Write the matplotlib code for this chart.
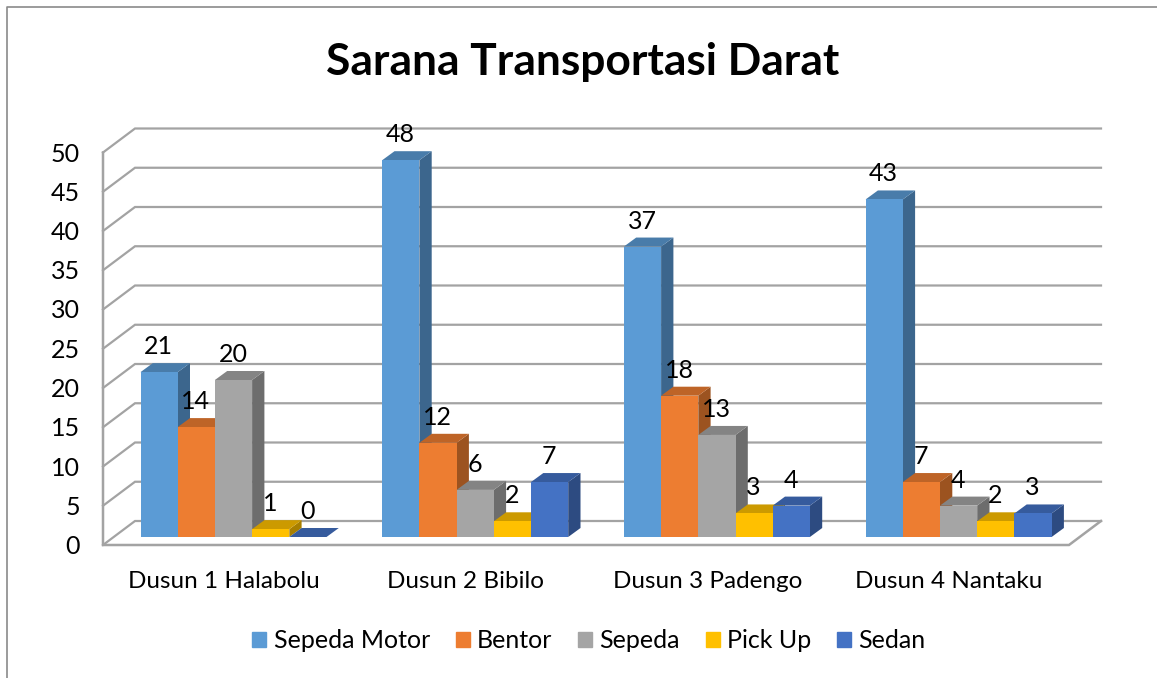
import numpy as np
import matplotlib
matplotlib.use("Agg")
import matplotlib.pyplot as plt
from matplotlib.patches import Polygon

plt.rcParams['font.family'] = ['Lato', 'DejaVu Sans']

categories = ['Dusun 1 Halabolu', 'Dusun 2 Bibilo', 'Dusun 3 Padengo', 'Dusun 4 Nantaku']
series_names = ['Sepeda Motor', 'Bentor', 'Sepeda', 'Pick Up', 'Sedan']
sepeda_motor = [21, 48, 37, 43]
bentor = [14, 12, 18, 7]
sepeda = [20, 6, 13, 4]
pick_up = [1, 2, 3, 2]
sedan = [0, 7, 4, 3]
y_ticks = [0, 5, 10, 15, 20, 25, 30, 35, 40, 45, 50]

colors = ['#5B9BD5', '#ED7D31', '#A5A5A5', '#FFC000', '#4472C4']
grid_color = '#A3A3A3'
border_color = '#8A8A8A'

# pixel scale of the picture, the axes fill the whole figure
W, H = 1157, 678
PX_X = 241.7      # px per category
PX_Y = 7.85       # px per value unit
X0 = 233.5        # px of first cluster centre
Y0 = 537.0        # px of value 0 at the bar front


def dx(px):
    return px / PX_X


def dy(px):
    return px / PX_Y


def shade(color, f):
    rgb = np.array(matplotlib.colors.to_rgb(color))
    return tuple(rgb * f)


fig = plt.figure(figsize=(W / 100, H / 100), dpi=100)
ax = fig.add_axes([0, 0, 1, 1])
ax.set_xlim(-X0 / PX_X, (W - X0) / PX_X)
ax.set_ylim((Y0 - H) / PX_Y, Y0 / PX_Y)
ax.axis('off')

# walls: front edge sits 8 px below the bars, back edge 24 px above that
wall_left = dx(103 - X0)
wall_right = dx(1069 - X0)
front = -dy(8)
depth_x, depth_y = dx(32), dy(24)

for v in y_ticks:
    ax.plot([wall_left, wall_left + depth_x, wall_right + depth_x],
            [front + v, front + v + depth_y, front + v + depth_y],
            color=grid_color, lw=1.6, zorder=1, solid_joinstyle='miter')
ax.plot([wall_left, wall_left, wall_right, wall_right + depth_x],
        [front + 50, front, front, front + depth_y],
        color=grid_color, lw=1.8, zorder=1, solid_joinstyle='miter')

# bars, left to right so the next front face covers the side of the previous
values = np.array([sepeda_motor, bentor, sepeda, pick_up, sedan])
bar_w = dx(37.2)
bar_dx, bar_dy = dx(12.3), dy(9)
x_cat = np.arange(len(categories))
z = 2
for i in x_cat:
    for j, name in enumerate(series_names):
        v = values[j][i]
        left = i + (j - 2.5) * bar_w
        col = colors[j]
        if v > 0:
            ax.add_patch(Polygon([(left + bar_w, 0), (left + bar_w + bar_dx, bar_dy),
                                  (left + bar_w + bar_dx, v + bar_dy), (left + bar_w, v)],
                                 color=shade(col, 0.66), lw=0, zorder=z))
        ax.add_patch(Polygon([(left, v), (left + bar_w, v),
                              (left + bar_w + bar_dx, v + bar_dy), (left + bar_dx, v + bar_dy)],
                             color=shade(col, 0.8), lw=0, zorder=z))
        ax.bar(left, v, bar_w, align='edge', color=col, lw=0, zorder=z + 0.5)
        z += 1

# data labels over everything
for i in x_cat:
    for j in range(len(series_names)):
        v = values[j][i]
        left = i + (j - 2.5) * bar_w
        ax.text(left + bar_w / 2 - dx(0.5), v + dy(25.5), str(v), ha='center', va='center',
                fontsize=18, color='black', zorder=100)

# tick and category labels
for v in y_ticks:
    ax.text(dx(80 - X0), front + v - dy(1.5), str(v), ha='right', va='center', fontsize=18, zorder=100)
for i, cat in enumerate(categories):
    ax.text(i - dx(9.5), dy(Y0 - 581), cat, ha='center', va='center', fontsize=17.5, zorder=100)

ax.text(dx(583 - X0), dy(Y0 - 62), 'Sarana Transportasi Darat', ha='center', va='center',
        fontsize=31.9, fontweight='bold', zorder=100)

# outer chart border, only left and top show in the crop
ax.plot([dx(7 - X0), dx(7 - X0), dx(W - X0)], [dy(Y0 - H), dy(Y0 - 7), dy(Y0 - 7)],
        color=border_color, lw=1.2, zorder=1)

handles = [plt.Rectangle((0, 0), 1, 1, color=c) for c in colors]
ax.legend(handles, series_names, ncol=5, loc='center', frameon=False,
          bbox_to_anchor=(589 / W, 1 - 641 / H), bbox_transform=fig.transFigure,
          fontsize=18, handlelength=0.56, handleheight=0.56, handletextpad=0.3,
          columnspacing=1.02, borderpad=0)

fig.savefig('out.png', dpi=100)
